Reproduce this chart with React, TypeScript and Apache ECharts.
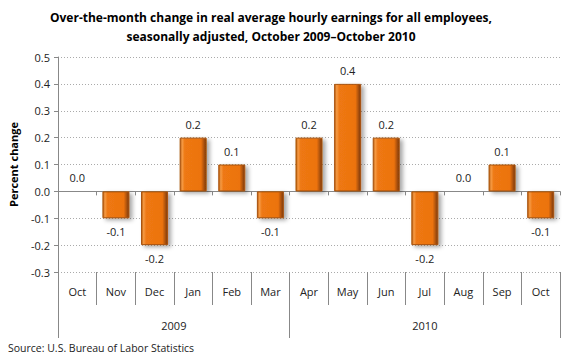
import React, { useEffect, useRef } from "react";
import * as echarts from "echarts";

const months = ["Oct", "Nov", "Dec", "Jan", "Feb", "Mar", "Apr", "May", "Jun", "Jul", "Aug", "Sep", "Oct"];
const values = [0.0, -0.1, -0.2, 0.2, 0.1, -0.1, 0.2, 0.4, 0.2, -0.2, 0.0, 0.1, -0.1];
const years = ["2009", "2010"];
const yearSpans = [6, 7]; // months per year group
const titleText = "Over-the-month change in real average hourly earnings for all employees,\nseasonally adjusted, October 2009\u2013October 2010";
const sourceText = "Source: U.S. Bureau of Labor Statistics";
const yAxisName = "Percent change";

const FONT = "'Open Sans', 'Noto Sans', sans-serif";

export default function App() {
  const ref = useRef<HTMLDivElement>(null);
  useEffect(() => {
    if (!ref.current) return;
    const chart = echarts.init(ref.current, undefined, { renderer: "svg" });

    const halfCount = months.length * 2;
    const yearData: string[] = new Array(halfCount + 1).fill("");
    const yearTicks = new Set<number>([0]);
    let acc = 0;
    years.forEach((y, i) => {
      const span = yearSpans[i] * 2;
      yearData[acc + span / 2] = y;
      acc += span;
      yearTicks.add(acc);
    });

    const barColor = new echarts.graphic.LinearGradient(0, 0, 1, 0, [
      { offset: 0, color: "#B85C0A" },
      { offset: 0.08, color: "#F59A45" },
      { offset: 0.18, color: "#EE7812" },
      { offset: 0.8, color: "#EC7310" },
      { offset: 1, color: "#7A3805" },
    ]);

    chart.setOption({
      animation: false,
      textStyle: { fontFamily: FONT },
      title: [
        {
          text: titleText,
          left: 266,
          textAlign: "center",
          top: 3,
          textStyle: { fontSize: 12, fontWeight: "bold", color: "#000", lineHeight: 19, fontFamily: FONT },
        },
        {
          text: sourceText,
          left: 3,
          top: 337,
          textStyle: { fontSize: 10.5, fontWeight: "normal", color: "#222", fontFamily: FONT },
        },
      ],
      grid: { left: 52, right: 20, top: 57, bottom: 88 },
      xAxis: [
        {
          type: "category",
          data: months,
          position: "bottom",
          axisLine: { onZero: true, lineStyle: { color: "#888", width: 1 } },
          axisTick: { show: true, length: 4, lineStyle: { color: "#888" } },
          axisLabel: { show: false },
          splitLine: { show: false },
        },
        {
          type: "category",
          data: months,
          position: "bottom",
          axisLine: { show: false, onZero: false },
          axisTick: { show: true, length: 33, interval: 0, lineStyle: { color: "#888" } },
          axisLabel: { show: true, interval: 0, margin: 14, fontSize: 11, color: "#222", fontFamily: FONT },
          splitLine: { show: false },
        },
        {
          type: "category",
          data: yearData,
          boundaryGap: false,
          position: "bottom",
          axisLine: { show: false, onZero: false },
          axisTick: {
            show: true,
            length: 66,
            interval: (i: number) => yearTicks.has(i),
            lineStyle: { color: "#888" },
          },
          axisLabel: { show: true, interval: 0, margin: 48, fontSize: 11, color: "#222", fontFamily: FONT },
          splitLine: { show: false },
        },
      ],
      yAxis: {
        type: "value",
        min: -0.3,
        max: 0.5,
        interval: 0.1,
        name: yAxisName,
        nameLocation: "middle",
        nameGap: 39,
        nameTextStyle: { fontSize: 11, fontWeight: "bold", color: "#000", fontFamily: FONT },
        axisLine: { show: true, lineStyle: { color: "#888" } },
        axisTick: { show: true, length: 4, lineStyle: { color: "#888" } },
        axisLabel: {
          fontSize: 11,
          color: "#222",
          margin: 8,
          formatter: (v: number) => v.toFixed(1),
          fontFamily: FONT,
        },
        splitLine: { show: true, lineStyle: { color: "#aaa", type: [1, 2] } },
      },
      series: [
        {
          type: "bar",
          xAxisIndex: 0,
          data: values.map((v) => ({
            value: v,
            label: { position: v < 0 ? "bottom" : "top" },
          })),
          barWidth: 27,
          itemStyle: {
            color: barColor,
            borderColor: "#A9520A",
            borderWidth: 1,
            shadowColor: "rgba(0,0,0,0.35)",
            shadowBlur: 4,
            shadowOffsetX: 3,
            shadowOffsetY: 2,
          },
          label: {
            show: true,
            distance: 8,
            fontSize: 11,
            color: "#222",
            fontFamily: FONT,
            formatter: (p: any) => Number(p.value).toFixed(1),
          },
        },
      ],
    });
    return () => chart.dispose();
  }, []);
  return <div ref={ref} style={{ width: 580, height: 360, margin: -8 }} />;
}
